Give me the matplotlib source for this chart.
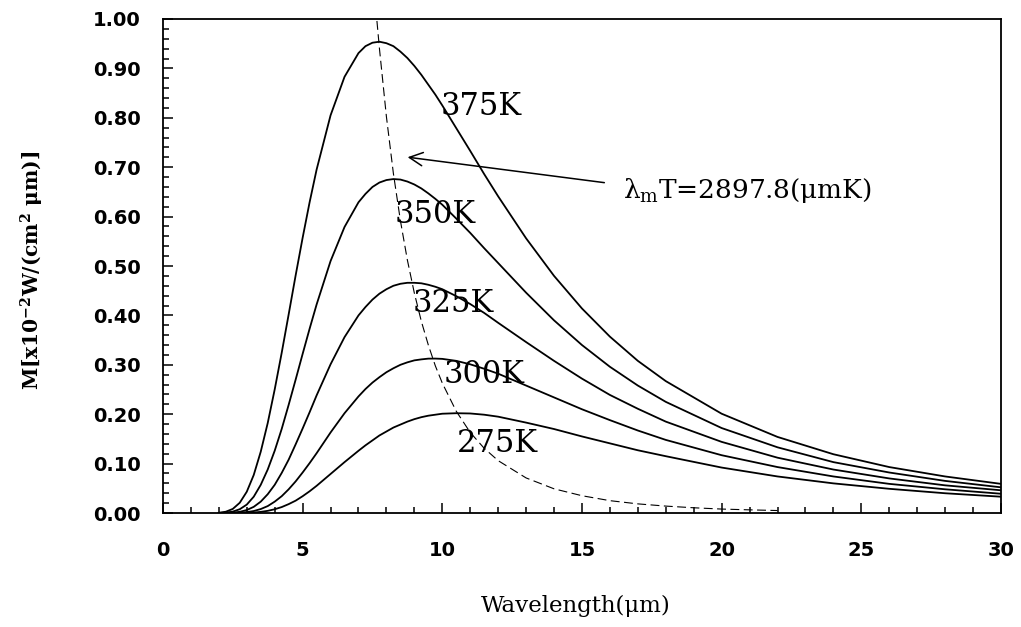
import matplotlib.pyplot as plt
from matplotlib.ticker import MultipleLocator

plt.rcParams['mathtext.fontset'] = 'dejavuserif'

# wavelength samples (um) and exitance, M [x1e-2 W/(cm^2 um)]
wavelength = [2, 2.25, 2.5, 2.75, 3, 3.25, 3.5, 3.75, 4, 4.25, 4.5, 4.75, 5, 5.25, 5.5,
              6, 6.5, 7, 7.25, 7.5, 7.75, 8, 8.25, 8.5, 8.75, 9, 9.25, 9.5, 9.75, 10,
              10.5, 11, 11.5, 12, 13, 14, 15, 16, 17, 18, 20, 22, 24, 26, 28, 30]

m_375 = [0.0005, 0.0026, 0.0083, 0.0208, 0.043, 0.077, 0.124, 0.182, 0.250, 0.324, 0.402,
         0.481, 0.557, 0.629, 0.695, 0.805, 0.883, 0.931, 0.945, 0.952, 0.954, 0.951,
         0.945, 0.934, 0.921, 0.905, 0.887, 0.867, 0.847, 0.825, 0.779, 0.733, 0.686,
         0.641, 0.556, 0.480, 0.414, 0.357, 0.308, 0.267, 0.201, 0.154, 0.119, 0.093,
         0.074, 0.059]
m_350 = [0.0001, 0.0008, 0.0028, 0.0077, 0.017, 0.033, 0.057, 0.088, 0.126, 0.170, 0.219,
         0.270, 0.322, 0.373, 0.422, 0.510, 0.579, 0.629, 0.646, 0.660, 0.669, 0.674,
         0.676, 0.675, 0.671, 0.665, 0.657, 0.647, 0.636, 0.624, 0.596, 0.567, 0.536,
         0.506, 0.446, 0.390, 0.340, 0.296, 0.258, 0.225, 0.172, 0.133, 0.103, 0.082,
         0.065, 0.052]
m_325 = [0.0, 0.0002, 0.0008, 0.0024, 0.006, 0.0125, 0.023, 0.038, 0.057, 0.081, 0.108,
         0.139, 0.171, 0.204, 0.238, 0.301, 0.356, 0.400, 0.417, 0.432, 0.444, 0.453,
         0.460, 0.464, 0.466, 0.466, 0.465, 0.462, 0.458, 0.453, 0.439, 0.423, 0.405,
         0.385, 0.346, 0.308, 0.272, 0.239, 0.211, 0.185, 0.144, 0.112, 0.088, 0.070,
         0.056, 0.046]
m_300 = [0.0, 0.0, 0.0002, 0.0006, 0.0018, 0.004, 0.008, 0.014, 0.023, 0.034, 0.048,
         0.064, 0.082, 0.101, 0.121, 0.163, 0.202, 0.236, 0.251, 0.264, 0.275, 0.285,
         0.293, 0.300, 0.305, 0.309, 0.311, 0.3125, 0.3126, 0.312, 0.308, 0.301, 0.292,
         0.282, 0.258, 0.234, 0.210, 0.188, 0.167, 0.148, 0.117, 0.093, 0.074, 0.059,
         0.048, 0.039]
m_275 = [0.0, 0.0, 0.0, 0.0001, 0.0004, 0.001, 0.0023, 0.0044, 0.0076, 0.012, 0.018,
         0.025, 0.034, 0.044, 0.055, 0.079, 0.103, 0.126, 0.137, 0.147, 0.157, 0.165,
         0.173, 0.179, 0.185, 0.190, 0.194, 0.197, 0.199, 0.201, 0.202, 0.2015, 0.199,
         0.195, 0.183, 0.170, 0.155, 0.141, 0.127, 0.115, 0.092, 0.074, 0.060, 0.049,
         0.040, 0.033]

curves = [m_375, m_350, m_325, m_300, m_275]
curve_labels = ['375K', '350K', '325K', '300K', '275K']
label_pos = [(11.39, 0.822), (9.74, 0.605), (10.38, 0.425), (11.49, 0.281), (11.99, 0.140)]

# locus of the peaks (Wien's law)
peak_wl = [7.66, 7.75, 8, 8.25, 8.5, 8.75, 9, 9.25, 9.5, 9.75, 10, 10.5, 11, 11.5, 12,
           13, 14, 15, 16, 17, 18, 19, 20, 21, 22]
peak_m = [0.996, 0.940, 0.802, 0.687, 0.592, 0.512, 0.445, 0.388, 0.340, 0.298, 0.263,
          0.206, 0.163, 0.131, 0.106, 0.071, 0.049, 0.035, 0.025, 0.0185, 0.014, 0.0106,
          0.008, 0.0064, 0.005]

fig = plt.figure(figsize=(10.21, 6.27), dpi=100)
ax = fig.add_axes([0.1596, 0.1818, 0.8208, 0.7879])

for m in curves:
    ax.plot(wavelength, m, color='black', lw=1.3)
ax.plot(peak_wl, peak_m, color='black', lw=0.8, ls=(0, (8, 4)))

serif = ['DejaVu Serif']
for lab, (x, y) in zip(curve_labels, label_pos):
    ax.text(x, y, lab, family=serif, fontsize=22, ha='center', va='center')

ax.annotate('', xy=(8.66, 0.721), xytext=(15.9, 0.668),
            arrowprops=dict(arrowstyle='->', color='black', lw=1.1, mutation_scale=24))
ax.text(16.47, 0.652, 'λ$_{\\rm m}$T=2897.8(μmK)', family=serif, fontsize=19,
        ha='left', va='center')

ax.set_xlim(0, 30)
ax.set_ylim(0, 1.0)
ax.xaxis.set_major_locator(MultipleLocator(5))
ax.xaxis.set_minor_locator(MultipleLocator(1))
ax.yaxis.set_major_locator(MultipleLocator(0.1))
ax.yaxis.set_minor_locator(MultipleLocator(0.02))
ax.yaxis.set_major_formatter(plt.FormatStrFormatter('%.2f'))
ax.tick_params(which='both', direction='in', top=False, right=False, width=1.1)
ax.tick_params(which='major', length=7)
ax.tick_params(which='minor', length=4)
ax.tick_params(axis='y', which='major', pad=16)
ax.tick_params(axis='x', which='major', pad=20)
for t in ax.get_xticklabels() + ax.get_yticklabels():
    t.set_fontfamily('DejaVu Sans')
    t.set_fontweight('bold')
    t.set_fontsize(14)
for s in ax.spines.values():
    s.set_linewidth(1.3)

ax.set_xlabel('Wavelength(μm)', family=serif, fontsize=16.5)
ax.xaxis.set_label_coords(0.492, -0.188)
ax.xaxis.label.set_va('center')
ax.set_ylabel('M[x10$^{\\mathbf{-2}}$W/(cm$^{\\mathbf{2}}$ μm)]', family=serif,
              fontsize=14.5, fontweight='bold')
ax.yaxis.set_label_coords(-0.156, 0.492)
ax.yaxis.label.set_va('center')

plt.savefig('out.png', dpi=100)
